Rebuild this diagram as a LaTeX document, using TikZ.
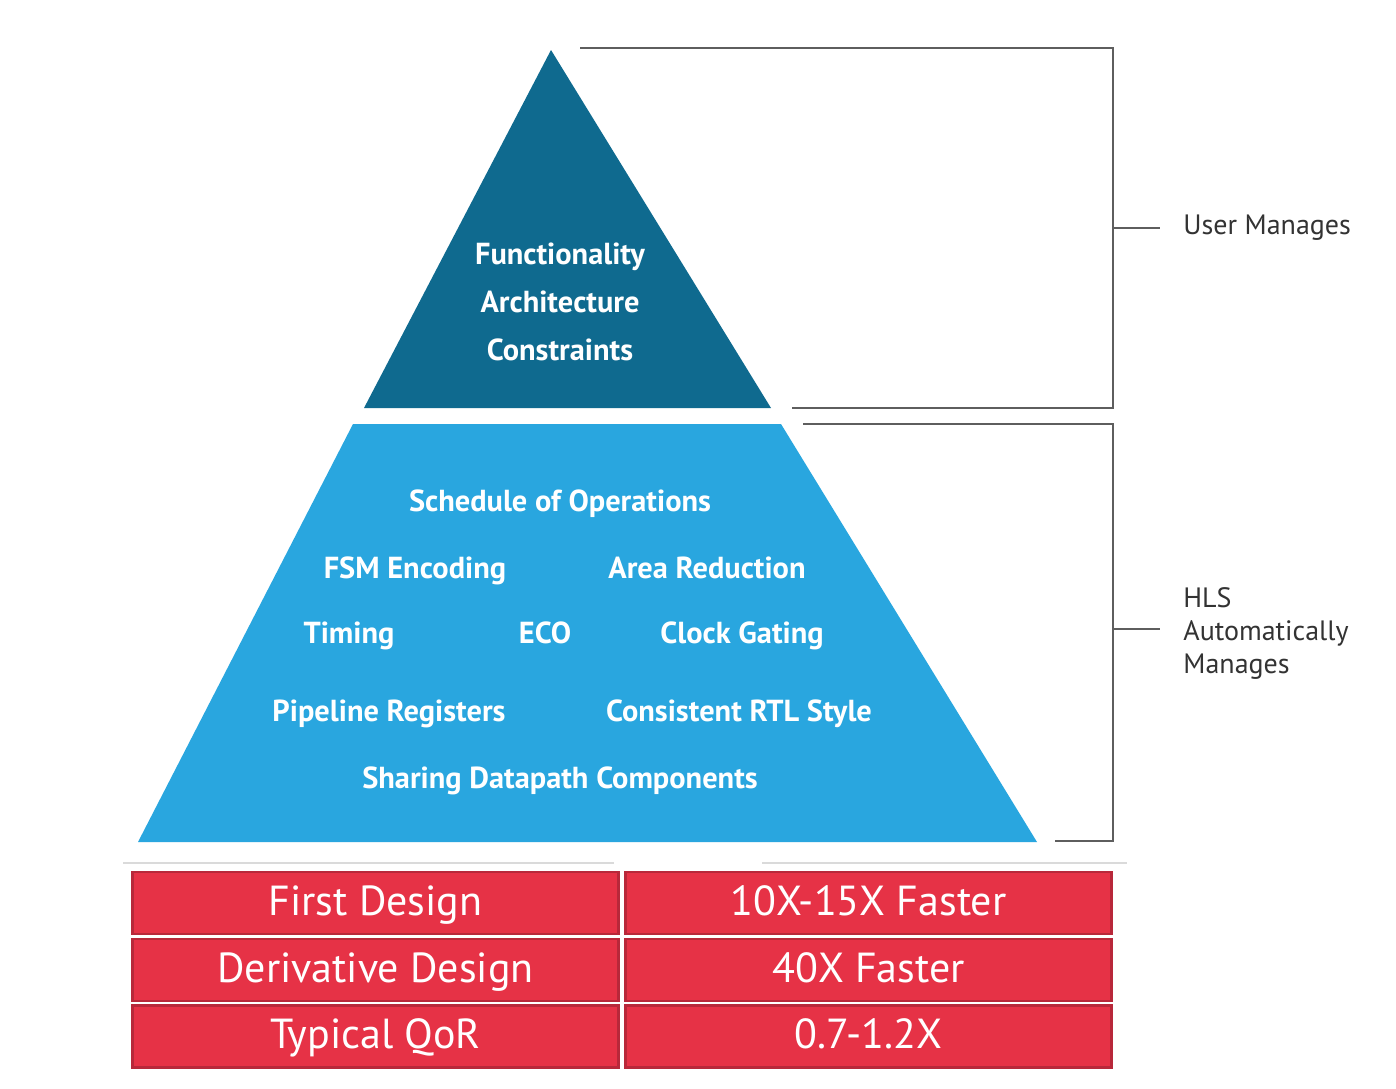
\documentclass[tikz,border=0pt]{standalone}
\usepackage{fontspec}
\setmainfont{PT Sans}
\definecolor{darktri}{HTML}{0F6A8F}
\definecolor{lighttri}{HTML}{29A6DF}
\definecolor{cellred}{HTML}{E63246}
\definecolor{redborder}{HTML}{B8283A}
\definecolor{brgray}{HTML}{5E5E5E}
\definecolor{sepgray}{HTML}{DADADA}
\tikzset{
  innertext/.style={text=white,font=\bfseries\fontsize{15.2}{17}\selectfont,inner sep=0pt,text height=0.72em,text depth=0.22em,yshift=-2.5pt},
  sidetext/.style={text=black!80,font=\fontsize{14}{16.5}\selectfont,inner sep=0pt,align=left},
  bracket/.style={draw=brgray,line width=1pt},
  sepline/.style={draw=sepgray,line width=1pt},
  cell/.style={draw=redborder,fill=cellred,line width=1.2pt,minimum width=243pt,minimum height=31pt,inner sep=0pt,text=white,font=\fontsize{21}{24}\selectfont,text height=1.2em,text depth=0pt}
}
\begin{document}
\begin{tikzpicture}[x=0.5pt,y=-0.5pt]
\useasboundingbox[fill=white] (0,0) rectangle (1396,1088);
% pyramid
\fill[darktri] (551,50) -- (771,408) -- (364,408) -- cycle;
\fill[lighttri] (353,424) -- (781,424) -- (1037,842) -- (138,842) -- cycle;
% top tier text
\node[innertext] (func) at (560,254) {Functionality};
\node[innertext] (arch) at (560,302) {Architecture};
\node[innertext] (cons) at (560,350) {Constraints};
% lower tier text
\node[innertext] (sched) at (560,501) {Schedule of Operations};
\node[innertext] (fsm) at (415,568) {FSM Encoding};
\node[innertext] (area) at (707,568) {Area Reduction};
\node[innertext] (timing) at (349,633) {Timing};
\node[innertext] (eco) at (545,633) {ECO};
\node[innertext] (clock) at (742,633) {Clock Gating};
\node[innertext] (pipe) at (389,711) {Pipeline Registers};
\node[innertext] (rtl) at (739,711) {Consistent RTL Style};
\node[innertext] (share) at (560,778) {Sharing Datapath Components};
% brackets
\coordinate (b1s) at (580,48);
\coordinate (b1c) at (1113,48);
\coordinate (b1d) at (1113,408);
\coordinate (b1e) at (792,408);
\coordinate (b1m) at (1113,228);
\coordinate (b1t) at (1160,228);
\draw[bracket] (b1s) -- (b1c) -- (b1d) -- (b1e);
\draw[bracket] (b1m) -- (b1t);
\node[sidetext,anchor=west] (user) at (1183,228) {User Manages};
\coordinate (b2s) at (803,424);
\coordinate (b2c) at (1113,424);
\coordinate (b2d) at (1113,841);
\coordinate (b2e) at (1055,841);
\coordinate (b2m) at (1113,629);
\coordinate (b2t) at (1160,629);
\draw[bracket] (b2s) -- (b2c) -- (b2d) -- (b2e);
\draw[bracket] (b2m) -- (b2t);
\node[sidetext,anchor=west] (hls) at (1183,633) {HLS\\Automatically\\Manages};
% separator
\coordinate (s1a) at (123,863);
\coordinate (s1b) at (614,863);
\coordinate (s2a) at (762,863);
\coordinate (s2b) at (1127,863);
\draw[sepline] (s1a) -- (s1b);
\draw[sepline] (s2a) -- (s2b);
% table
\node[cell] (c11) at (375.5,903) {First Design};
\node[cell] (c12) at (868.5,903) {10X-15X Faster};
\node[cell] (c21) at (375.5,970) {Derivative Design};
\node[cell] (c22) at (868.5,970) {40X Faster};
\node[cell] (c31) at (375.5,1036.5) {Typical QoR};
\node[cell] (c32) at (868.5,1036.5) {0.7-1.2X};
\end{tikzpicture}
\end{document}
